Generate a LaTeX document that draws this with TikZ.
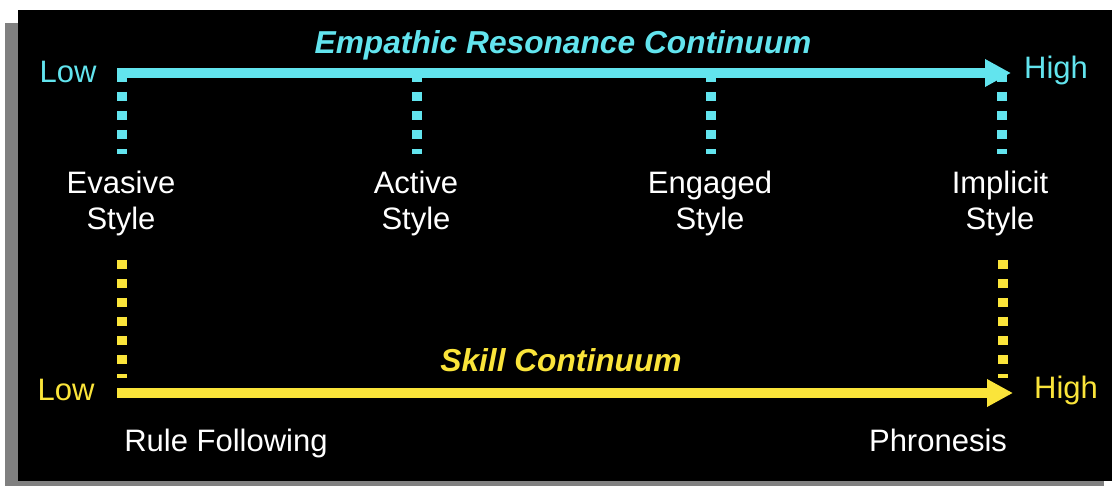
\documentclass[tikz,border=0pt]{standalone}
\usepackage{fontspec}
\setmainfont{Liberation Sans}
\usetikzlibrary{arrows.meta}
\definecolor{ercyan}{RGB}{98,228,238}
\definecolor{skyellow}{RGB}{250,228,58}
\definecolor{shadowgray}{RGB}{128,128,128}
\tikzset{
  bigfont/.style={font=\fontsize{31}{36}\selectfont},
  titlefont/.style={font=\fontsize{31.7}{36}\selectfont\bfseries\itshape},
  axis/.style={line width=10pt,-{Triangle[length=26pt,width=26pt]}},
  dots/.style={line width=10pt,dash pattern=on 9pt off 10pt},
  stylelabel/.style={bigfont,text=white,align=center}
}
\begin{document}
\begin{tikzpicture}[x=1pt,y=-1pt]
\useasboundingbox (0,0) rectangle (1112,486);

%背景和阴影
\fill[shadowgray] (5,23) rectangle (1104,490);
\fill[black] (18,10) rectangle (1112,481);

%共情连续体
\coordinate (eLow) at (117,73);
\coordinate (eHigh) at (1011,73);
\draw[axis,ercyan] (eLow) -- (eHigh);
\node[titlefont,text=ercyan] (eTitle) at (563,45) {Empathic Resonance Continuum};
\node[bigfont,text=ercyan] (eLowTxt) at (68,72) {Low};
\node[bigfont,text=ercyan] (eHighTxt) at (1056,70) {High};

%四种风格
\node[stylelabel] (evasive) at (121,203) {Evasive\\Style};
\node[stylelabel] (active) at (416,203) {Active\\Style};
\node[stylelabel] (engaged) at (710,203) {Engaged\\Style};
\node[stylelabel] (implicit) at (1000,203) {Implicit\\Style};

%青色虚线
\foreach \px/\nm in {122/evasive,417/active,711/engaged,1002/implicit}{
  \coordinate (\nm Top) at (\px,73);
  \coordinate (\nm Bot) at (\px,154);
  \draw[dots,ercyan] (\nm Top) -- (\nm Bot);
}

%黄色虚线
\coordinate (sLeftTop) at (122,260);
\coordinate (sLeftBot) at (122,378);
\coordinate (sRightTop) at (1003,260);
\coordinate (sRightBot) at (1003,378);
\draw[dots,skyellow] (sLeftTop) -- (sLeftBot);
\draw[dots,skyellow] (sRightTop) -- (sRightBot);

%技能连续体
\coordinate (sLow) at (117,393);
\coordinate (sHigh) at (1013,393);
\draw[axis,skyellow] (sLow) -- (sHigh);
\node[titlefont,text=skyellow] (sTitle) at (561,360) {Skill Continuum};
\node[bigfont,text=skyellow] (sLowTxt) at (66,390) {Low};
\node[bigfont,text=skyellow] (sHighTxt) at (1066,390) {High};

%两端标注
\node[bigfont,text=white,anchor=base] (rule) at (226,451) {Rule Following};
\node[bigfont,text=white,anchor=base] (phron) at (938,451) {Phronesis};
\end{tikzpicture}
\end{document}
